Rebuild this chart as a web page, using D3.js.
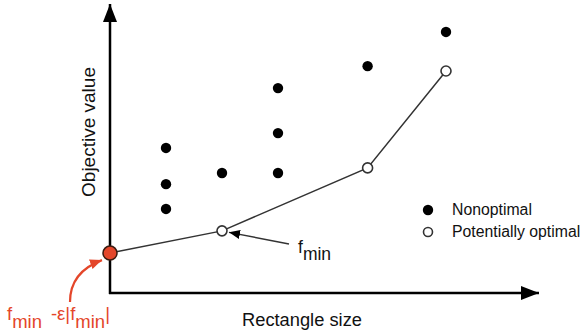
<!DOCTYPE html>
<html>
<head>
<meta charset="utf-8">
<script src="https://cdn.jsdelivr.net/npm/d3@7"></script>
<style>
  body { margin: 0; background: #fff; }
  svg { display: block; font-family: "Liberation Sans", Arial, Helvetica, sans-serif; }
</style>
</head>
<body>
<svg width="585" height="335"></svg>
<script>
// --- data ---
const nonoptX = [1, 1, 1, 2, 3, 3, 3, 4.6, 6];
const nonoptY = [5.09, 3.82, 2.95, 4.21, 7.19, 5.61, 4.21, 7.96, 9.16];
const optX = [0, 2, 4.6, 6];
const optY = [1.40, 2.18, 4.39, 7.79];
const legendLabels = ["Nonoptimal", "Potentially optimal"];

const svg = d3.select("svg");
const x = d3.scaleLinear().domain([0, 7.5]).range([110, 530]);
const y = d3.scaleLinear().domain([0, 10]).range([293, 8]);

const red = "#e4462a";

// markers
const defs = svg.append("defs");
function marker(id, color, w, h) {
    defs.append("marker").attr("id", id)
        .attr("viewBox", `0 0 ${w} ${h}`).attr("refX", w).attr("refY", h / 2)
        .attr("markerWidth", w).attr("markerHeight", h)
        .attr("markerUnits", "userSpaceOnUse").attr("orient", "auto")
        .append("path").attr("d", `M0,0L${w},${h / 2}L0,${h}Z`).attr("fill", color);
}
marker("axisHead", "#000", 18, 14);
marker("blackHead", "#000", 11, 9);
marker("redHead", red, 12, 10);

// axes (arrows)
svg.append("line").attr("x1", x(0)).attr("y1", y(0) + 1).attr("x2", x(0)).attr("y2", 4)
    .attr("stroke", "#000").attr("stroke-width", 2.5).attr("marker-end", "url(#axisHead)");
svg.append("line").attr("x1", x(0) - 1).attr("y1", y(0)).attr("x2", 539).attr("y2", y(0))
    .attr("stroke", "#000").attr("stroke-width", 2.5).attr("marker-end", "url(#axisHead)");

// axis labels
svg.append("text").attr("transform", `translate(95,132) rotate(-90)`)
    .attr("text-anchor", "middle").attr("font-size", 19).attr("fill", "#111")
    .text("Objective value");
svg.append("text").attr("x", 302).attr("y", 326)
    .attr("text-anchor", "middle").attr("font-size", 18.3).attr("fill", "#111")
    .text("Rectangle size");

// lower hull line
const line = d3.line().x((d, i) => x(optX[i])).y((d, i) => y(optY[i]));
svg.append("path").datum(optX).attr("d", line)
    .attr("fill", "none").attr("stroke", "#333").attr("stroke-width", 1.5);

// nonoptimal points
svg.selectAll(".nonopt").data(nonoptX).join("circle").attr("class", "nonopt")
    .attr("cx", d => x(d)).attr("cy", (d, i) => y(nonoptY[i])).attr("r", 5.2)
    .attr("fill", "#000");

// potentially optimal points
svg.selectAll(".opt").data(optX.slice(1)).join("circle").attr("class", "opt")
    .attr("cx", d => x(d)).attr("cy", (d, i) => y(optY[i + 1])).attr("r", 5)
    .attr("fill", "#fff").attr("stroke", "#333").attr("stroke-width", 1.6);

// f_min - eps|f_min| point
svg.append("circle").attr("cx", x(optX[0])).attr("cy", y(optY[0])).attr("r", 7)
    .attr("fill", red).attr("stroke", "#3a1a10").attr("stroke-width", 1.5);

// f_min annotation
svg.append("line").attr("x1", 289).attr("y1", 244).attr("x2", x(optX[1]) + 7).attr("y2", y(optY[1]) + 1.5)
    .attr("stroke", "#333").attr("stroke-width", 1.5).attr("marker-end", "url(#blackHead)");
const fmin = svg.append("text").attr("x", 298).attr("y", 253).attr("font-size", 17.5).attr("fill", "#111");
fmin.append("tspan").text("f");
fmin.append("tspan").attr("dy", 7).text("min");

// red annotation
svg.append("path").attr("d", `M70,302 Q70,272 ${x(0) - 8},${y(optY[0]) + 7}`)
    .attr("fill", "none").attr("stroke", red).attr("stroke-width", 2.2).attr("marker-end", "url(#redHead)");
const rt = svg.append("text").attr("x", 7).attr("y", 320).attr("font-size", 18.5).attr("fill", red);
rt.append("tspan").text("f");
rt.append("tspan").attr("dy", 8).text("min");
rt.append("tspan").attr("dy", -8).attr("dx", 9).text("-\u03b5|f");
rt.append("tspan").attr("dy", 8).text("min");
rt.append("tspan").attr("dy", -8).text("|");

// legend
const leg = svg.append("g").attr("transform", "translate(428,210)");
legendLabels.forEach((lab, i) => {
    const gy = i * 22;
    leg.append("circle").attr("cx", 0).attr("cy", gy).attr("r", i === 0 ? 5.2 : 4.5)
        .attr("fill", i === 0 ? "#000" : "#fff")
        .attr("stroke", i === 0 ? "none" : "#333").attr("stroke-width", 1.6);
    leg.append("text").attr("x", 24).attr("y", gy + 5).attr("font-size", 15.8).attr("fill", "#111").text(lab);
});
</script>
</body>
</html>
